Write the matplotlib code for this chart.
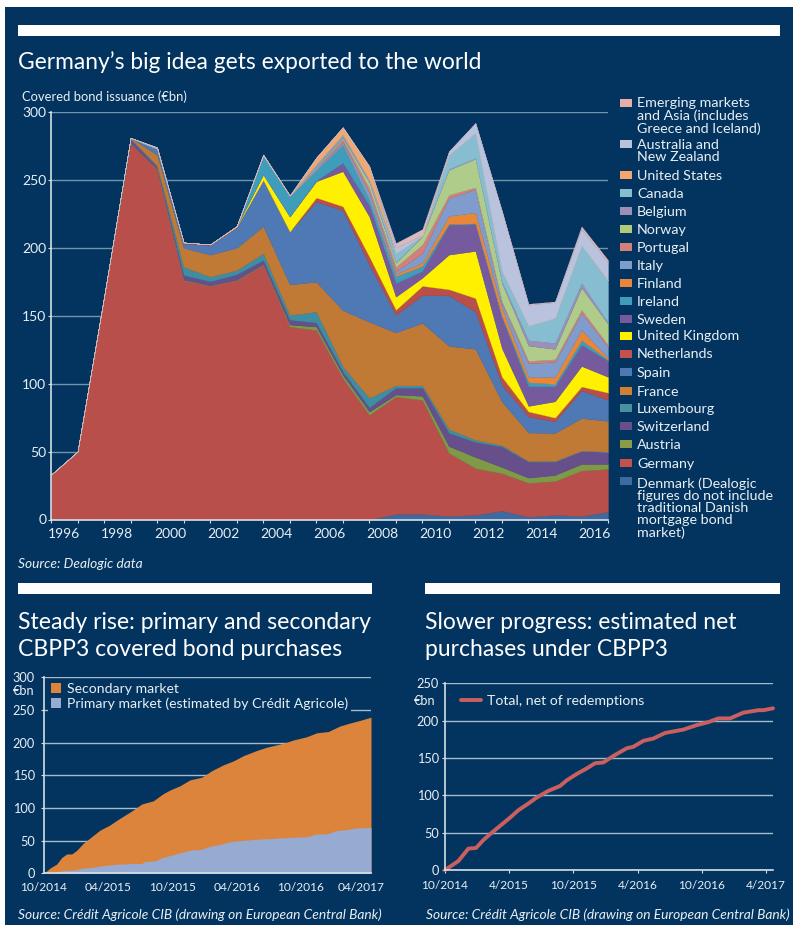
"""Covered bond issuance page: one stacked area chart and two CBPP3 panels."""
import matplotlib
matplotlib.use("Agg")
import matplotlib.pyplot as plt
from matplotlib.patches import Rectangle
from matplotlib.transforms import ScaledTranslation

NAVY = "#03345f"
WHITE = "#ffffff"
INK = "#e8eff4"
GRID_DIM = "#6f95ad"
GRID_LIGHT = "#a3bccd"
AXIS = "#d5dfe6"

plt.rcParams["font.family"] = ["Lato", "DejaVu Sans"]

W, H = 800, 930

# one point per year, 1995 to 2016 issuance (EUR bn), bottom of the stack first
denmark = [0, 0, 0, 0, 0, 0, 0, 0, 0, 0, 0, 0, 0, 4, 4, 2.6, 3.4, 6.5, 2, 3.4, 2.6, 5.7]
germany = [33, 50, 164, 277, 258, 176, 172, 176, 187.5, 142, 139.5, 104, 77, 86.5, 84, 46.4, 34.3, 27.5, 25, 24.9, 33.4, 31.5]
austria = [0, 0, 0, 0, 0, 0.5, 0.3, 0.5, 0.5, 1.5, 2.5, 2.5, 2.5, 1.5, 3, 5, 8.3, 4.6, 3.8, 4.5, 4.9, 3.7]
switzerland = [0, 0, 0, 3, 2, 3.5, 3, 4, 3, 3.5, 3, 2.5, 3, 5, 6, 9.7, 11, 15.1, 11.8, 9.8, 9.6, 8.8]
luxembourg = [0, 0, 0, 0.5, 0.5, 6, 3.5, 3, 5, 3.5, 8, 3.7, 7, 1.7, 1.7, 2.8, 1.6, 1, 0.4, 0.4, 0.3, 0.3]
france = [0, 0, 0, 0.5, 8, 14, 16.2, 16.5, 20, 22.5, 22, 41.3, 56, 39, 46, 61.3, 67, 32, 21, 20.7, 23.8, 22.6]
spain = [0, 0, 0, 0, 4.5, 3, 7, 15, 34, 39, 59, 73.6, 42, 13, 20.3, 37.2, 27.4, 12.3, 11.8, 8.5, 20.4, 15.4]
netherlands = [0, 0, 0, 0, 0, 1, 0.5, 0.5, 0, 0, 3, 3, 6, 3.7, 7, 4.5, 10, 6, 3.7, 2.8, 2.9, 5.4]
united_kingdom = [0, 0, 0, 0, 0, 0, 0, 0.5, 4, 11, 12, 25.8, 29.5, 9.6, 6, 25.5, 34.7, 21, 4.1, 12, 15.1, 11.6]
sweden = [0, 0, 0, 0, 0, 0, 0, 0, 0, 0, 0.5, 6.2, 8, 10, 4.9, 22, 19.9, 22.5, 14.4, 11, 15.6, 11.7]
ireland = [0, 0, 0, 0, 0, 0, 0, 0, 14, 15, 8, 13.5, 4.5, 5, 3.7, 0.6, 0.4, 1, 3, 1.8, 3.4, 0.9]
finland = [0, 0, 0, 0, 0, 0, 0, 0, 0, 0, 0, 0.3, 0.3, 1.7, 2.4, 5.9, 8, 6.1, 4, 5.2, 7.6, 1.4]
italy = [0, 0, 0, 0, 0, 0, 0, 0, 0, 0.6, 1, 1.7, 4.7, 1.9, 7, 13.2, 17, 3.4, 10, 11, 12.4, 8]
portugal = [0, 0, 0, 0, 0, 0, 0, 0, 0, 0, 0.5, 2, 3.5, 3.4, 6.5, 2.3, 1.5, 1.5, 1.8, 2, 2.4, 1.6]
norway = [0, 0, 0, 0, 0, 0, 0, 0, 0, 0, 0.5, 1, 4, 3, 6, 18.5, 21.1, 13.5, 11.2, 7.5, 16.2, 15.4]
belgium = [0, 0, 0, 0, 0, 0, 0, 0, 0, 0, 1, 1.5, 1, 0.5, 0.5, 0.5, 0.4, 1, 4, 4.5, 3.4, 1]
canada = [0, 0, 0, 0, 1, 0, 0, 0, 0.7, 0, 1, 0.8, 1, 6.5, 0, 10.5, 18.7, 8, 10.6, 18.4, 28, 31]
united_states = [0, 0, 0, 0, 0, 0, 0, 0, 0, 0, 5, 5.4, 10, 0, 0, 0, 0, 0, 0, 0, 0, 0]
australia_nz = [0, 0, 0, 0, 0, 0, 0, 0, 0, 0, 0, 0, 0, 4, 0.5, 2.5, 7.2, 44, 15.4, 11.6, 12, 13]
emerging = [0, 0, 0, 0, 0, 0, 0, 0, 0, 0, 0, 0, 0, 3.5, 4.3, 0, 0, 0, 0.8, 0.5, 1.8, 2]

year_labels = ["1996", "1998", "2000", "2002", "2004", "2006", "2008", "2010", "2012", "2014", "2016"]

# months since 10/2014, EUR bn
total_months = [0, 0.56, 1.18, 1.65, 2.12, 2.59, 3.05, 3.68, 4.45, 5.23, 6.17, 6.79, 7.57, 8.35, 9.13, 10.22, 11.15, 11.78,
                12.71, 13.64, 14.74, 15.67, 16.76, 17.69, 18.63, 19.88, 20.81, 22.37, 23.3, 24.55, 25.48, 26.57, 27.66,
                28.6, 29.53, 30.56]
total_purchases = [0, 8, 14, 24, 29.6, 29.6, 35, 46, 56, 66, 74, 81, 89, 97, 106, 111, 122, 127.5,
                   134, 143, 147, 157, 166, 172, 180, 188, 193, 199, 204, 209, 215, 217, 225.5,
                   230, 234, 239]
primary_months = [0, 1.18, 1.65, 2.9, 3.52, 4.45, 5.55, 6.79, 8.35, 9.13, 9.44, 10.37, 11.15, 12.09, 12.71, 13.8, 14.74,
                  15.67, 16.45, 17.38, 18.32, 20.19, 21.12, 22.37, 24.55, 25.33, 26.57, 27.2, 28.29, 29.22, 30.56]
primary_purchases = [0, 1.5, 4, 5, 7.6, 9, 11.7, 13.8, 15, 15, 18, 19, 24.5, 28.5, 31.6, 35.7, 36.7,
                     42, 44, 48.5, 50, 52.5, 53, 54.5, 56, 59.7, 60.7, 65, 67, 69.4, 70]
net_months = [0, 1.25, 2.18, 2.9, 3.58, 4.21, 5.14, 6.07, 6.85, 7.79, 8.57, 9.66, 10.75, 11.37, 12.31, 13.24, 14.02, 14.8,
              15.73, 16.98, 17.6, 18.54, 19.47, 20.56, 22.27, 23.52, 24.61, 25.55, 26.64, 27.88, 29.28, 29.75, 30.65]
net_purchases = [0, 12, 28.6, 29.5, 40, 48, 59, 70, 80, 89, 97, 106, 112.5, 120, 128.6, 136, 143, 144,
                 152.7, 163, 165, 173, 176, 183.5, 188, 194, 198, 203, 203, 210.7, 214, 214, 216.5]

left_dates = ["10/2014", "04/2015", "10/2015", "04/2016", "10/2016", "04/2017"]
right_dates = ["10/2014", "4/2015", "10/2015", "4/2016", "10/2016", "4/2017"]

# (series, colour) in stack order
STACK = [
    (denmark, "#3f6a9f"), (germany, "#b84f4b"), (austria, "#7f9a46"), (switzerland, "#674f8c"),
    (luxembourg, "#3e8ea3"), (france, "#c17a35"), (spain, "#4f79b5"), (netherlands, "#b94f48"),
    (united_kingdom, "#fff000"), (sweden, "#765a9e"), (ireland, "#3f9dbb"), (finland, "#e8873a"),
    (italy, "#7f9ccc"), (portugal, "#d3807b"), (norway, "#b0cc8a"), (belgium, "#9d8fb8"),
    (canada, "#87bdd0"), (united_states, "#f0a875"), (australia_nz, "#b9c3de"), (emerging, "#dcb9bd"),
]

# legend rows: label, colour, y of the first line, y of the label's middle
LEGEND = [
    ("Emerging markets\nand Asia (includes\nGreece and Iceland)", "#e6aea5", 103, 116),
    ("Australia and\nNew Zealand", "#b9c3de", 144, 151),
    ("United States", "#f4a66e", 175, 176),
    ("Canada", "#87bdd0", 193, 194),
    ("Belgium", "#9d8fb8", 211, 212),
    ("Norway", "#b0cc7a", 229, 230),
    ("Portugal", "#d3807b", 247, 248),
    ("Italy", "#7f9ccc", 265, 266),
    ("Finland", "#e8873a", 283, 284),
    ("Ireland", "#3f9dbb", 301, 302),
    ("Sweden", "#765a9e", 319, 320),
    ("United Kingdom", "#fff000", 336, 336),
    ("Netherlands", "#c2534c", 354, 354),
    ("Spain", "#4f79b5", 372, 373),
    ("France", "#d07f35", 391, 392),
    ("Luxembourg", "#4a90a0", 408, 409),
    ("Switzerland", "#674f8c", 426, 427),
    ("Austria", "#8a9c48", 444, 445),
    ("Germany", "#c2534c", 463, 464),
    ("Denmark (Dealogic\nfigures do not include\ntraditional Danish\nmortgage bond\nmarket)", "#3f6a9f", 481, 508),
]


def add_axes_px(fig, left, top, right, bottom):
    return fig.add_axes([left / W, 1 - bottom / H, (right - left) / W, (bottom - top) / H])


def text_px(fig, x, y, s, **kwargs):
    kwargs.setdefault("color", INK)
    kwargs.setdefault("va", "center")
    return fig.text(x / W, 1 - y / H, s, **kwargs)


def rect_px(fig, left, top, right, bottom, color, zorder=-2):
    fig.add_artist(Rectangle((left / W, 1 - bottom / H), (right - left) / W, (bottom - top) / H,
                             transform=fig.transFigure, facecolor=color, edgecolor="none", zorder=zorder))


def style_axes(ax, grid_color):
    ax.set_facecolor("none")
    for spine in ("top", "right"):
        ax.spines[spine].set_visible(False)
    for spine in ("left", "bottom"):
        ax.spines[spine].set_color(AXIS)
        ax.spines[spine].set_linewidth(1.2)
    ax.yaxis.grid(True, color=grid_color, linewidth=1)
    ax.set_axisbelow(True)
    ax.tick_params(colors=AXIS, labelcolor=INK, labelsize=9.2, length=2.5, width=0.8, pad=2)


def build_stack(fig):
    ax = add_axes_px(fig, 51, 112, 608, 519.5)
    style_axes(ax, GRID_DIM)
    xs = list(range(len(germany)))
    for_stack = [s for s, _ in STACK]
    colors = [c for _, c in STACK]
    polys = ax.stackplot(xs, for_stack, colors=colors, linewidth=0.2)
    for poly, color in zip(polys, colors):
        poly.set_edgecolor(color)
    ax.set_xlim(0, 21)
    ax.set_ylim(0, 300)
    ax.set_yticks(range(0, 301, 50))
    ax.set_xticks(xs[:-1] + [21])
    ax.set_xticklabels([])
    ax.tick_params(axis="y", labelsize=10, pad=1)
    # year labels sit between ticks
    for i, label in enumerate(year_labels):
        ax.annotate(label, (0.5 + 2 * i, 0), xycoords=("data", "axes fraction"), xytext=(0, -15),
                    textcoords="offset pixels", ha="center", va="center", color=INK, fontsize=10,
                    annotation_clip=False)

    text_px(fig, 22, 96.5, "Covered bond issuance (€bn)", fontsize=9.4)
    for label, color, swatch_y, text_y in LEGEND:
        rect_px(fig, 620, swatch_y - 4, 632, swatch_y + 4, color)
        text_px(fig, 637, text_y, label, fontsize=10.3, linespacing=1.0)


def build_purchases(fig):
    ax = add_axes_px(fig, 44, 677.3, 371, 873.3)
    style_axes(ax, GRID_LIGHT)
    ax.fill_between(total_months, total_purchases, color="#dc843c", linewidth=0, label="Secondary market")
    ax.fill_between(primary_months, primary_purchases, color="#97aad2", linewidth=0,
                    label="Primary market (estimated by Crédit Agricole)")
    ax.set_xlim(0, total_months[-1])
    ax.set_ylim(0, 300)
    ax.set_yticks(range(0, 301, 50))
    ax.set_xticks(range(0, 31, 6))
    ax.set_xticklabels(left_dates, fontsize=8.6)
    ax.tick_params(axis="x", length=0, pad=6)
    ax.tick_params(axis="y", pad=4)
    last = ax.get_xticklabels()[-1]
    last.set_transform(last.get_transform() + ScaledTranslation(-4 / 100, 0, fig.dpi_scale_trans))
    legend = ax.legend(loc="upper left", bbox_to_anchor=(0.012, 0.985), frameon=True, facecolor=NAVY, edgecolor="none",
                       framealpha=1, fancybox=False, fontsize=10.05, labelcolor=INK, handlelength=0.75,
                       handleheight=0.75, handletextpad=0.4, labelspacing=0.15, borderpad=0.2, borderaxespad=0)
    legend.set_zorder(1)
    text_px(fig, 34, 691, "€bn", fontsize=9.2, ha="right")


def build_net(fig):
    ax = add_axes_px(fig, 445, 683.3, 773, 870)
    style_axes(ax, GRID_LIGHT)
    ax.plot(net_months, net_purchases, color="#c9605f", linewidth=2.8, label="Total, net of redemptions",
            clip_on=False, solid_capstyle="round")
    ax.set_xlim(0, net_months[-1])
    ax.set_ylim(0, 250)
    ax.set_yticks(range(0, 251, 50))
    ax.set_xticks(range(0, 31, 6))
    ax.set_xticklabels(right_dates, fontsize=8.6)
    ax.tick_params(axis="x", pad=5)
    ax.legend(loc="upper left", bbox_to_anchor=(0.05, 0.94), frameon=False, fontsize=10.2, labelcolor=INK,
              handlelength=1.4, handletextpad=0.4, borderpad=0, borderaxespad=0)
    text_px(fig, 425, 701, "€bn", fontsize=9.2, ha="center")


def main():
    fig = plt.figure(figsize=(W / 100, H / 100), dpi=100, facecolor=WHITE)
    rect_px(fig, 5, 7, 793, 925, NAVY, zorder=-3)
    rect_px(fig, 18, 25, 780, 36, WHITE)
    rect_px(fig, 18, 583, 372, 594, WHITE)
    rect_px(fig, 425, 583, 780, 594, WHITE)

    text_px(fig, 18, 62, "Germany’s big idea gets exported to the world", color=WHITE, fontsize=16.35)
    text_px(fig, 18, 636, "Steady rise: primary and secondary\nCBPP3 covered bond purchases", color=WHITE,
            fontsize=16.6, linespacing=1.4)
    text_px(fig, 425, 636, "Slower progress: estimated net\npurchases under CBPP3", color=WHITE,
            fontsize=16.5, linespacing=1.4)
    text_px(fig, 18, 564, "Source: Dealogic data", fontsize=9.95, style="italic")
    text_px(fig, 18, 915, "Source: Crédit Agricole CIB (drawing on European Central Bank)", fontsize=9.95, style="italic")
    text_px(fig, 426, 915, "Source: Crédit Agricole CIB (drawing on European Central Bank)", fontsize=9.95, style="italic")

    build_stack(fig)
    build_purchases(fig)
    build_net(fig)

    fig.savefig("out.png", dpi=100, facecolor=WHITE)
    plt.close(fig)


if __name__ == "__main__":
    main()
